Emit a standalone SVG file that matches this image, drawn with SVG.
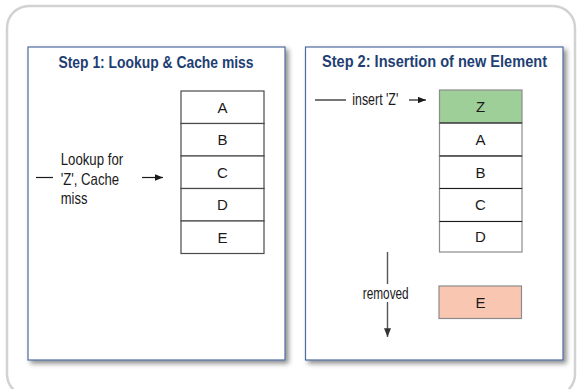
<svg xmlns="http://www.w3.org/2000/svg" width="580" height="389" viewBox="0 0 580 389">
  <style>
    .frame { fill: #ffffff; stroke: #d2d2d2; stroke-width: 2.5; }
    .panel { fill: #ffffff; stroke: #4e6c9c; stroke-width: 1.2; filter: url(#shadow); }
    .title { font-family: "Liberation Sans Narrow", "Liberation Sans", Arial, sans-serif; font-weight: bold; font-size: 16.5px; fill: #1f3f74; }
    .cell { fill: #ffffff; stroke: #4a4a4a; stroke-width: 1.2; }
    .cell2 { fill: #ffffff; stroke: #8c8c8c; stroke-width: 1.2; }
    .sep { stroke: #1a1a1a; stroke-width: 1.2; }
    .new { fill: #9ecf99; }
    .old { fill: #f9c6b1; }
    .key { font-family: "Liberation Sans Narrow", "Liberation Sans", Arial, sans-serif; font-size: 15px; fill: #1a1a1a; text-anchor: middle; }
    .label { font-family: "Liberation Sans Narrow", "Liberation Sans", Arial, sans-serif; font-size: 16.5px; fill: #1a1a1a; }
    .edge { stroke: #1a1a1a; stroke-width: 1.2; fill: none; }
    .edge-gray { stroke: #555555; stroke-width: 1.4; fill: none; }
  </style>
  <defs>
    <filter id="shadow" x="-10%" y="-10%" width="125%" height="125%">
      <feDropShadow dx="3" dy="3" stdDeviation="2.5" flood-color="#000000" flood-opacity="0.45"/>
    </filter>
    <marker id="arrow" viewBox="0 0 10 8" refX="10" refY="4" markerWidth="8" markerHeight="6.4" markerUnits="userSpaceOnUse" orient="auto">
      <path d="M0,0 L10,4 L0,8 z" fill="#1a1a1a"/>
    </marker>
    <marker id="arrow-gray" viewBox="0 0 10 8" refX="10" refY="4" markerWidth="11" markerHeight="7" markerUnits="userSpaceOnUse" orient="auto">
      <path d="M0,0 L10,4 L0,8 z" fill="#333333"/>
    </marker>
  </defs>

  <!-- outer rounded frame -->
  <rect class="frame" x="7" y="6" width="568" height="390" rx="22" ry="22"/>

  <!-- step 1 panel -->
  <g id="panel-step1">
    <rect class="panel" x="28" y="47" width="257" height="313"/>
    <text class="title" x="58.5" y="67.5" textLength="195" lengthAdjust="spacingAndGlyphs">Step 1: Lookup &amp; Cache miss</text>
  </g>

  <!-- step 2 panel -->
  <g id="panel-step2">
    <rect class="panel" x="305.5" y="47" width="257.5" height="313"/>
    <text class="title" x="322" y="67" textLength="225" lengthAdjust="spacingAndGlyphs">Step 2: Insertion of new Element</text>
  </g>

  <!-- step 1 cache list -->
  <g id="list1">
    <g id="list1-A"><rect class="cell" x="181" y="91" width="83" height="32.5"/><text class="key" x="222.5" y="112.8">A</text></g>
    <g id="list1-B"><rect class="cell" x="181" y="123.5" width="83" height="32.5"/><text class="key" x="222.5" y="145.3">B</text></g>
    <g id="list1-C"><rect class="cell" x="181" y="156" width="83" height="32.5"/><text class="key" x="222.5" y="177.8">C</text></g>
    <g id="list1-D"><rect class="cell" x="181" y="188.5" width="83" height="32.5"/><text class="key" x="222.5" y="210.3">D</text></g>
    <g id="list1-E"><rect class="cell" x="181" y="221" width="83" height="32.5"/><text class="key" x="222.5" y="242.8">E</text></g>
  </g>

  <!-- step 2 cache list -->
  <g id="list2">
    <g id="list2-Z"><rect class="cell2 new" x="439.5" y="90" width="82.5" height="33"/><text class="key" x="480.5" y="112">Z</text></g>
    <g id="list2-A"><rect class="cell2" x="439.5" y="123" width="82.5" height="33"/><text class="key" x="480.5" y="144.8">A</text></g>
    <g id="list2-B"><rect class="cell2" x="439.5" y="156" width="82.5" height="32.5"/><text class="key" x="480.5" y="177.8">B</text></g>
    <g id="list2-C"><rect class="cell2" x="439.5" y="188.5" width="82.5" height="33"/><text class="key" x="480.5" y="210.3">C</text></g>
    <g id="list2-D"><rect class="cell2" x="439.5" y="221.5" width="82.5" height="30.5"/><text class="key" x="480.5" y="242.3">D</text></g>
    <line class="sep" x1="439.5" y1="123" x2="522" y2="123"/>
    <line class="sep" x1="439.5" y1="156" x2="522" y2="156"/>
    <line class="sep" x1="439.5" y1="188.5" x2="522" y2="188.5"/>
    <line class="sep" x1="439.5" y1="221.5" x2="522" y2="221.5"/>
  </g>

  <!-- evicted entry -->
  <g id="evicted-E">
    <rect class="cell2 old" x="439" y="286" width="82.5" height="32.5"/>
    <text class="key" x="480.5" y="307.8">E</text>
  </g>

  <!-- connectors -->
  <g id="connectors">
    <line class="edge" x1="36" y1="177.5" x2="53" y2="177.5"/>
    <line class="edge" x1="142" y1="177.5" x2="163" y2="177.5" marker-end="url(#arrow)"/>
    <line class="edge" x1="315" y1="100" x2="346" y2="100"/>
    <line class="edge" x1="409" y1="100" x2="426" y2="100" marker-end="url(#arrow)"/>
    <line class="edge-gray" x1="387.5" y1="252" x2="387.5" y2="284"/>
    <line class="edge-gray" x1="387.5" y1="302" x2="387.5" y2="337" marker-end="url(#arrow-gray)"/>
  </g>

  <!-- connector labels -->
  <g id="labels">
    <text class="label" x="60.7" y="165" textLength="62.5" lengthAdjust="spacingAndGlyphs">Lookup for</text>
    <text class="label" x="60.7" y="184.5" textLength="58.5" lengthAdjust="spacingAndGlyphs">'Z', Cache</text>
    <text class="label" x="60.7" y="204" textLength="26.7" lengthAdjust="spacingAndGlyphs">miss</text>
    <text class="label" x="352.3" y="105" textLength="46" lengthAdjust="spacingAndGlyphs">insert 'Z'</text>
    <text class="label" x="362.7" y="298.5" textLength="46" lengthAdjust="spacingAndGlyphs">removed</text>
  </g>
</svg>
